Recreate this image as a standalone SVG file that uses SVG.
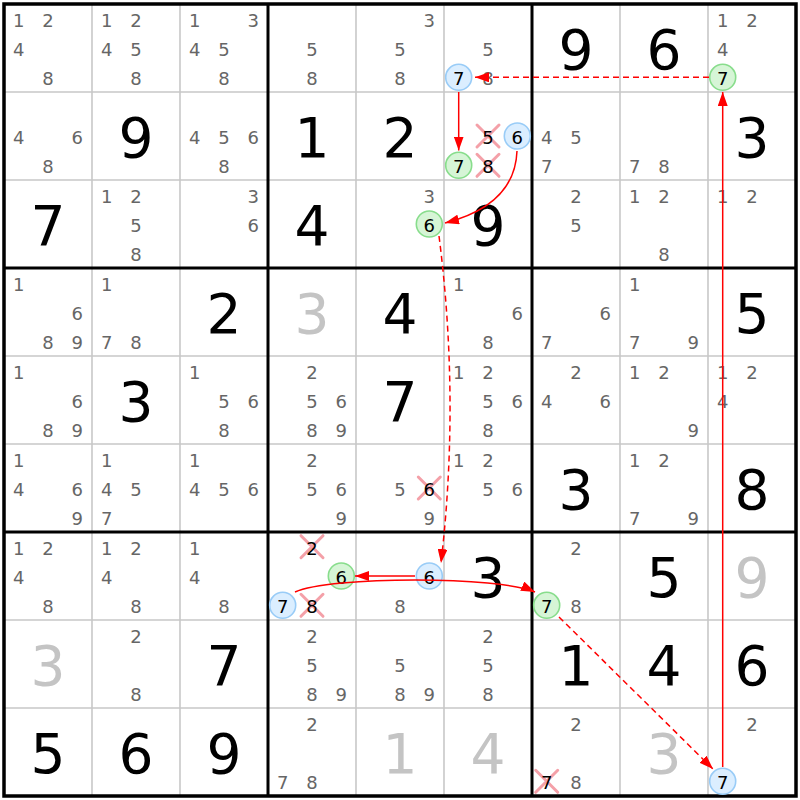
<svg xmlns="http://www.w3.org/2000/svg" width="800" height="800" viewBox="0 0 800 800">
<style>
text{font-family:"DejaVu Sans","Verdana",sans-serif;text-anchor:middle}
.c{font-size:18px;fill:#666}
.h{font-size:18px;fill:#000}
.g{font-size:55px;fill:#000}
.s{font-size:55px;fill:#c4c4c4}
.thin{stroke:#c8c8c8;stroke-width:1.6}
.thick{stroke:#000;stroke-width:3}
.cb{fill:#dbeeff;stroke:#99ccf7;stroke-width:1.6}
.cg{fill:#d6f5d6;stroke:#88dd8c;stroke-width:1.6}
.x{stroke:#f4a0a8;stroke-width:3;stroke-linecap:round}
.ln{fill:none;stroke:#ff0000;stroke-width:1.5;marker-end:url(#ah)}
.d{stroke-dasharray:6 4}
</style>
<defs>
<marker id="ah" markerUnits="userSpaceOnUse" markerWidth="15" markerHeight="10" refX="14" refY="5" orient="auto">
<path d="M0,0 L14,5 L0,10 z" fill="#ff0000"/>
</marker>
</defs>
<rect x="0" y="0" width="800" height="800" fill="#fff"/>
<g id="grid">
<path class="thin" d="M92,4V796M180,4V796M356,4V796M444,4V796M620,4V796M708,4V796M4,92H796M4,180H796M4,356H796M4,444H796M4,620H796M4,708H796"/>
<path class="thick" d="M268,4V796M532,4V796M4,268H796M4,532H796"/>
<rect x="4" y="4" width="792" height="792" fill="none" stroke="#000" stroke-width="3.5"/>
</g>
<g id="cells">
<g id="r0c0"><text class="c" x="18.7" y="26.7">1</text><text class="c" x="48" y="26.7">2</text><text class="c" x="18.7" y="56">4</text><text class="c" x="48" y="85.3">8</text></g>
<g id="r0c1"><text class="c" x="106.7" y="26.7">1</text><text class="c" x="136" y="26.7">2</text><text class="c" x="106.7" y="56">4</text><text class="c" x="136" y="56">5</text><text class="c" x="136" y="85.3">8</text></g>
<g id="r0c2"><text class="c" x="194.7" y="26.7">1</text><text class="c" x="253.3" y="26.7">3</text><text class="c" x="194.7" y="56">4</text><text class="c" x="224" y="56">5</text><text class="c" x="224" y="85.3">8</text></g>
<g id="r0c3"><text class="c" x="312" y="56">5</text><text class="c" x="312" y="85.3">8</text></g>
<g id="r0c4"><text class="c" x="429.3" y="26.7">3</text><text class="c" x="400" y="56">5</text><text class="c" x="400" y="85.3">8</text></g>
<g id="r0c5"><text class="c" x="488" y="56">5</text><text class="c" x="488" y="85.3">8</text><circle class="cb" cx="458.7" cy="77.3" r="13"/><text class="h" x="458.7" y="85.3">7</text></g>
<g id="r0c6"><text class="g" x="576" y="69">9</text></g>
<g id="r0c7"><text class="g" x="664" y="69">6</text></g>
<g id="r0c8"><text class="c" x="722.7" y="26.7">1</text><text class="c" x="752" y="26.7">2</text><text class="c" x="722.7" y="56">4</text><circle class="cg" cx="722.7" cy="77.3" r="13"/><text class="h" x="722.7" y="85.3">7</text></g>

<g id="r1c0"><text class="c" x="18.7" y="144">4</text><text class="c" x="77.3" y="144">6</text><text class="c" x="48" y="173.3">8</text></g>
<g id="r1c1"><text class="g" x="136" y="157">9</text></g>
<g id="r1c2"><text class="c" x="194.7" y="144">4</text><text class="c" x="224" y="144">5</text><text class="c" x="253.3" y="144">6</text><text class="c" x="224" y="173.3">8</text></g>
<g id="r1c3"><text class="g" x="312" y="157">1</text></g>
<g id="r1c4"><text class="g" x="400" y="157">2</text></g>
<g id="r1c5"><path class="x" d="M477,125L499,147M499,125L477,147M477,154.3L499,176.3M499,154.3L477,176.3"/><text class="h" x="488" y="144">5</text><text class="h" x="488" y="173.3">8</text><circle class="cb" cx="517.3" cy="136" r="13"/><text class="h" x="517.3" y="144">6</text><circle class="cg" cx="458.7" cy="165.3" r="13"/><text class="h" x="458.7" y="173.3">7</text></g>
<g id="r1c6"><text class="c" x="546.7" y="144">4</text><text class="c" x="576" y="144">5</text><text class="c" x="546.7" y="173.3">7</text></g>
<g id="r1c7"><text class="c" x="634.7" y="173.3">7</text><text class="c" x="664" y="173.3">8</text></g>
<g id="r1c8"><text class="g" x="752" y="157">3</text></g>

<g id="r2c0"><text class="g" x="48" y="245">7</text></g>
<g id="r2c1"><text class="c" x="106.7" y="202.7">1</text><text class="c" x="136" y="202.7">2</text><text class="c" x="136" y="232">5</text><text class="c" x="136" y="261.3">8</text></g>
<g id="r2c2"><text class="c" x="253.3" y="202.7">3</text><text class="c" x="253.3" y="232">6</text></g>
<g id="r2c3"><text class="g" x="312" y="245">4</text></g>
<g id="r2c4"><text class="c" x="429.3" y="202.7">3</text><circle class="cg" cx="429.3" cy="224" r="13"/><text class="h" x="429.3" y="232">6</text></g>
<g id="r2c5"><text class="g" x="488" y="245">9</text></g>
<g id="r2c6"><text class="c" x="576" y="202.7">2</text><text class="c" x="576" y="232">5</text></g>
<g id="r2c7"><text class="c" x="634.7" y="202.7">1</text><text class="c" x="664" y="202.7">2</text><text class="c" x="664" y="261.3">8</text></g>
<g id="r2c8"><text class="c" x="722.7" y="202.7">1</text><text class="c" x="752" y="202.7">2</text></g>

<g id="r3c0"><text class="c" x="18.7" y="290.7">1</text><text class="c" x="77.3" y="320">6</text><text class="c" x="48" y="349.3">8</text><text class="c" x="77.3" y="349.3">9</text></g>
<g id="r3c1"><text class="c" x="106.7" y="290.7">1</text><text class="c" x="106.7" y="349.3">7</text><text class="c" x="136" y="349.3">8</text></g>
<g id="r3c2"><text class="g" x="224" y="333">2</text></g>
<g id="r3c3"><text class="s" x="312" y="333">3</text></g>
<g id="r3c4"><text class="g" x="400" y="333">4</text></g>
<g id="r3c5"><text class="c" x="458.7" y="290.7">1</text><text class="c" x="517.3" y="320">6</text><text class="c" x="488" y="349.3">8</text></g>
<g id="r3c6"><text class="c" x="605.3" y="320">6</text><text class="c" x="546.7" y="349.3">7</text></g>
<g id="r3c7"><text class="c" x="634.7" y="290.7">1</text><text class="c" x="634.7" y="349.3">7</text><text class="c" x="693.3" y="349.3">9</text></g>
<g id="r3c8"><text class="g" x="752" y="333">5</text></g>

<g id="r4c0"><text class="c" x="18.7" y="378.7">1</text><text class="c" x="77.3" y="408">6</text><text class="c" x="48" y="437.3">8</text><text class="c" x="77.3" y="437.3">9</text></g>
<g id="r4c1"><text class="g" x="136" y="421">3</text></g>
<g id="r4c2"><text class="c" x="194.7" y="378.7">1</text><text class="c" x="224" y="408">5</text><text class="c" x="253.3" y="408">6</text><text class="c" x="224" y="437.3">8</text></g>
<g id="r4c3"><text class="c" x="312" y="378.7">2</text><text class="c" x="312" y="408">5</text><text class="c" x="341.3" y="408">6</text><text class="c" x="312" y="437.3">8</text><text class="c" x="341.3" y="437.3">9</text></g>
<g id="r4c4"><text class="g" x="400" y="421">7</text></g>
<g id="r4c5"><text class="c" x="458.7" y="378.7">1</text><text class="c" x="488" y="378.7">2</text><text class="c" x="488" y="408">5</text><text class="c" x="517.3" y="408">6</text><text class="c" x="488" y="437.3">8</text></g>
<g id="r4c6"><text class="c" x="576" y="378.7">2</text><text class="c" x="546.7" y="408">4</text><text class="c" x="605.3" y="408">6</text></g>
<g id="r4c7"><text class="c" x="634.7" y="378.7">1</text><text class="c" x="664" y="378.7">2</text><text class="c" x="693.3" y="437.3">9</text></g>
<g id="r4c8"><text class="c" x="722.7" y="378.7">1</text><text class="c" x="752" y="378.7">2</text><text class="c" x="722.7" y="408">4</text></g>

<g id="r5c0"><text class="c" x="18.7" y="466.7">1</text><text class="c" x="18.7" y="496">4</text><text class="c" x="77.3" y="496">6</text><text class="c" x="77.3" y="525.3">9</text></g>
<g id="r5c1"><text class="c" x="106.7" y="466.7">1</text><text class="c" x="106.7" y="496">4</text><text class="c" x="136" y="496">5</text><text class="c" x="106.7" y="525.3">7</text></g>
<g id="r5c2"><text class="c" x="194.7" y="466.7">1</text><text class="c" x="194.7" y="496">4</text><text class="c" x="224" y="496">5</text><text class="c" x="253.3" y="496">6</text></g>
<g id="r5c3"><text class="c" x="312" y="466.7">2</text><text class="c" x="312" y="496">5</text><text class="c" x="341.3" y="496">6</text><text class="c" x="341.3" y="525.3">9</text></g>
<g id="r5c4"><text class="c" x="400" y="496">5</text><path class="x" d="M418.3,477L440.3,499M440.3,477L418.3,499"/><text class="h" x="429.3" y="496">6</text><text class="c" x="429.3" y="525.3">9</text></g>
<g id="r5c5"><text class="c" x="458.7" y="466.7">1</text><text class="c" x="488" y="466.7">2</text><text class="c" x="488" y="496">5</text><text class="c" x="517.3" y="496">6</text></g>
<g id="r5c6"><text class="g" x="576" y="509">3</text></g>
<g id="r5c7"><text class="c" x="634.7" y="466.7">1</text><text class="c" x="664" y="466.7">2</text><text class="c" x="634.7" y="525.3">7</text><text class="c" x="693.3" y="525.3">9</text></g>
<g id="r5c8"><text class="g" x="752" y="509">8</text></g>

<g id="r6c0"><text class="c" x="18.7" y="554.7">1</text><text class="c" x="48" y="554.7">2</text><text class="c" x="18.7" y="584">4</text><text class="c" x="48" y="613.3">8</text></g>
<g id="r6c1"><text class="c" x="106.7" y="554.7">1</text><text class="c" x="136" y="554.7">2</text><text class="c" x="106.7" y="584">4</text><text class="c" x="136" y="613.3">8</text></g>
<g id="r6c2"><text class="c" x="194.7" y="554.7">1</text><text class="c" x="194.7" y="584">4</text><text class="c" x="224" y="613.3">8</text></g>
<g id="r6c3"><path class="x" d="M301,535.7L323,557.7M323,535.7L301,557.7M301,594.3L323,616.3M323,594.3L301,616.3"/><text class="h" x="312" y="554.7">2</text><text class="h" x="312" y="613.3">8</text><circle class="cg" cx="341.3" cy="576" r="13"/><text class="h" x="341.3" y="584">6</text><circle class="cb" cx="282.7" cy="605.3" r="13"/><text class="h" x="282.7" y="613.3">7</text></g>
<g id="r6c4"><circle class="cb" cx="429.3" cy="576" r="13"/><text class="h" x="429.3" y="584">6</text><text class="c" x="400" y="613.3">8</text></g>
<g id="r6c5"><text class="g" x="488" y="597">3</text></g>
<g id="r6c6"><text class="c" x="576" y="554.7">2</text><circle class="cg" cx="546.7" cy="605.3" r="13"/><text class="h" x="546.7" y="613.3">7</text><text class="c" x="576" y="613.3">8</text></g>
<g id="r6c7"><text class="g" x="664" y="597">5</text></g>
<g id="r6c8"><text class="s" x="752" y="597">9</text></g>

<g id="r7c0"><text class="s" x="48" y="685">3</text></g>
<g id="r7c1"><text class="c" x="136" y="642.7">2</text><text class="c" x="136" y="701.3">8</text></g>
<g id="r7c2"><text class="g" x="224" y="685">7</text></g>
<g id="r7c3"><text class="c" x="312" y="642.7">2</text><text class="c" x="312" y="672">5</text><text class="c" x="312" y="701.3">8</text><text class="c" x="341.3" y="701.3">9</text></g>
<g id="r7c4"><text class="c" x="400" y="672">5</text><text class="c" x="400" y="701.3">8</text><text class="c" x="429.3" y="701.3">9</text></g>
<g id="r7c5"><text class="c" x="488" y="642.7">2</text><text class="c" x="488" y="672">5</text><text class="c" x="488" y="701.3">8</text></g>
<g id="r7c6"><text class="g" x="576" y="685">1</text></g>
<g id="r7c7"><text class="g" x="664" y="685">4</text></g>
<g id="r7c8"><text class="g" x="752" y="685">6</text></g>

<g id="r8c0"><text class="g" x="48" y="773">5</text></g>
<g id="r8c1"><text class="g" x="136" y="773">6</text></g>
<g id="r8c2"><text class="g" x="224" y="773">9</text></g>
<g id="r8c3"><text class="c" x="312" y="730.7">2</text><text class="c" x="282.7" y="789.3">7</text><text class="c" x="312" y="789.3">8</text></g>
<g id="r8c4"><text class="s" x="400" y="773">1</text></g>
<g id="r8c5"><text class="s" x="488" y="773">4</text></g>
<g id="r8c6"><text class="c" x="576" y="730.7">2</text><path class="x" d="M535.7,770.3L557.7,792.3M557.7,770.3L535.7,792.3"/><text class="h" x="546.7" y="789.3">7</text><text class="c" x="576" y="789.3">8</text></g>
<g id="r8c7"><text class="s" x="664" y="773">3</text></g>
<g id="r8c8"><text class="c" x="752" y="730.7">2</text><circle class="cb" cx="722.7" cy="781.3" r="13"/><text class="h" x="722.7" y="789.3">7</text></g>
</g>
<g id="links">
<path class="ln d" d="M709,77.3L475,77.3"/>
<path class="ln" d="M458.7,92L458.7,150.5"/>
<path class="ln" d="M517,151Q515,205 445,223"/>
<path class="ln d" d="M439,236Q460,400 441,563"/>
<path class="ln" d="M415,576L355,576"/>
<path class="ln" d="M295,592C330,576 500,576 535,592"/>
<path class="ln d" d="M559,617L713,769"/>
<path class="ln" d="M722.7,767L722.7,92"/>
</g>
</svg>
